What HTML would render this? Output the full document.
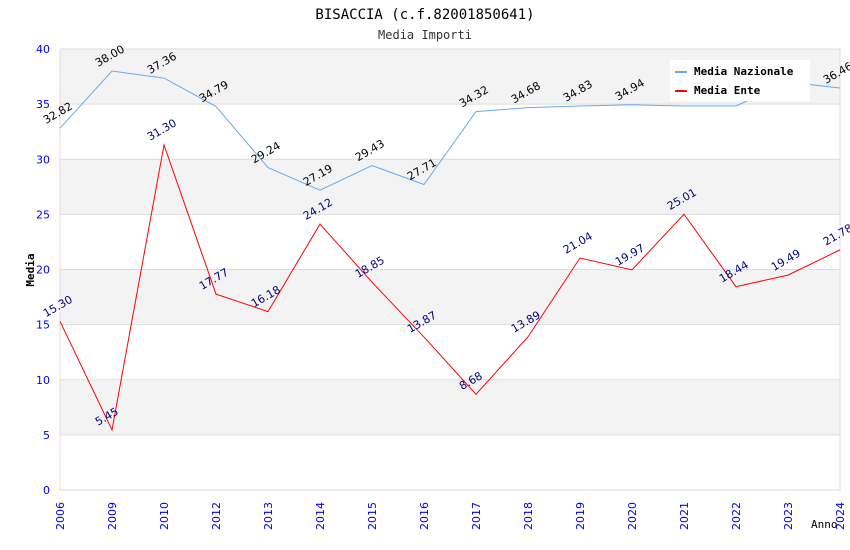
<!DOCTYPE html>
<html><head><meta charset="utf-8"><style>
body{margin:0;background:#fff;}
svg{display:block;}
</style></head><body>
<svg id="chart" width="850" height="550" xmlns="http://www.w3.org/2000/svg">
<text x="425" y="19" text-anchor="middle" font-family="DejaVu Sans Mono, Liberation Mono, monospace" font-size="14" fill="#000">BISACCIA (c.f.82001850641)</text>
<text x="425" y="39" text-anchor="middle" font-family="DejaVu Sans Mono, Liberation Mono, monospace" font-size="12" fill="#333">Media Importi</text>
<text transform="translate(34,270) rotate(-90)" text-anchor="middle" font-family="DejaVu Sans Mono, monospace" font-size="11" font-weight="bold" fill="#000">Media</text>
<text x="811" y="528" font-family="DejaVu Sans Mono, monospace" font-size="11" fill="#000">Anno</text>
<g id="bands"></g><g id="grid"></g><g id="axes"></g><g id="series"></g><g id="labels"></g>
<g>
<rect x="670" y="60" width="140" height="41" fill="#fff"/>
<line x1="675" y1="72" x2="687" y2="72" stroke="#66aaee" stroke-width="2"/>
<text x="694" y="75" font-family="DejaVu Sans Mono, monospace" font-size="11" font-weight="bold">Media Nazionale</text>
<line x1="675" y1="91" x2="687" y2="91" stroke="#ff0000" stroke-width="2"/>
<text x="694" y="94" font-family="DejaVu Sans Mono, monospace" font-size="11" font-weight="bold">Media Ente</text>
</g>
</svg>
<script>
const categories = ['2006','2009','2010','2012','2013','2014','2015','2016','2017','2018','2019','2020','2021','2022','2023','2024'];
const nazionale = [32.82,38.00,37.36,34.79,29.24,27.19,29.43,27.71,34.32,34.68,34.83,34.94,34.83,34.83,37.00,36.46];
const nazionaleLabels = ['32.82','38.00','37.36','34.79','29.24','27.19','29.43','27.71','34.32','34.68','34.83','34.94','','','','36.46'];
const ente = [15.30,5.45,31.30,17.77,16.18,24.12,18.85,13.87,8.68,13.89,21.04,19.97,25.01,18.44,19.49,21.78];
const yTicks = [0,5,10,15,20,25,30,35,40];
const NS='http://www.w3.org/2000/svg';
const L=60,R=840,T=49,B=490,yMax=40;
const x=i=>L+i*(R-L)/(categories.length-1);
const y=v=>B-v*(B-T)/yMax;
function mk(tag,attrs,parent,txt){const e=document.createElementNS(NS,tag);for(const k in attrs)e.setAttribute(k,attrs[k]);if(txt!==undefined)e.textContent=txt;document.getElementById(parent).appendChild(e);return e;}
for(let i=0;i<yTicks.length-1;i++){
  if(i%2===1){const r=mk('rect',{x:L,y:y(yTicks[i+1]),width:R-L,height:y(yTicks[i])-y(yTicks[i+1]),fill:'#f3f3f3'},'bands');
  
  }
}
yTicks.forEach(t=>{
  const g=mk('line',{x1:L,x2:R,y1:y(t),y2:y(t),stroke:'#dddddd'},'grid');
  
  
  const tl=mk('text',{x:L-10,y:y(t)+4,'text-anchor':'end','font-family':'DejaVu Sans, sans-serif','font-size':11,fill:'#0000ee'},'axes',String(t));
  
  
});
const ax=mk('path',{d:`M${L},${T}V${B}H${R}V${T}H${L}`,fill:'none',stroke:'#dddddd'},'axes');


categories.forEach((c,i)=>{
  const t=mk('text',{transform:`translate(${x(i)+4},${502}) rotate(-90)`,'text-anchor':'end','font-family':'DejaVu Sans, sans-serif','font-size':11,fill:'#0000ee'},'axes',c);
  
  
});
function line(vals,color,name){
  const p=mk('polyline',{points:vals.map((v,i)=>x(i)+','+y(v)).join(' '),fill:'none',stroke:color,'stroke-width':1},'series');
  
  
}
line(nazionale,'#66aaee','line-media-nazionale');
line(ente,'#ff0000','line-media-ente');
function labels(vals,texts,color,name){
  vals.forEach((v,i)=>{
    const s=texts?texts[i]:v.toFixed(2); if(!s)return;
    const t=mk('text',{transform:`translate(${x(i)-14},${y(v)-4}) rotate(-30)`,'font-family':'DejaVu Sans, sans-serif','font-size':11,fill:color},'labels',s);
    
    
  });
}
labels(nazionale,nazionaleLabels,'#000000','label-nazionale');
labels(ente,null,'#000080','label-ente');
</script>
</body></html>
